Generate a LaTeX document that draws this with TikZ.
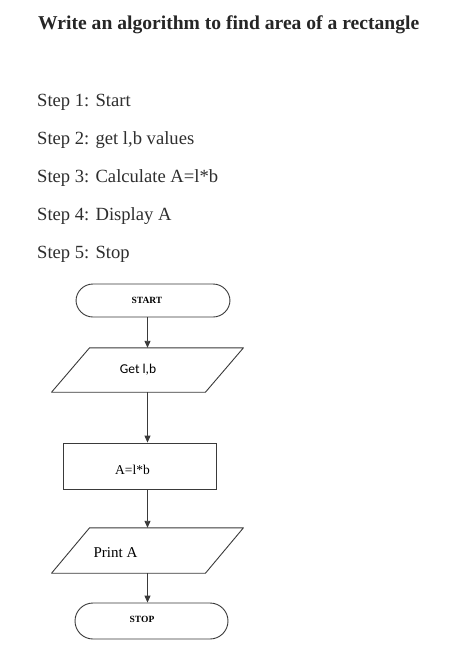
\documentclass[tikz,border=0pt]{standalone}
\usepackage{fontspec}
\setmainfont{Liberation Serif}
\newfontfamily\calib{Carlito}
\usetikzlibrary{arrows.meta}
\definecolor{titlecol}{HTML}{262626}
\definecolor{stepcol}{HTML}{2E2E2E}
\definecolor{linecol}{HTML}{3A3A3A}
\tikzset{
  titletext/.style={anchor=base west,inner sep=0pt,text=titlecol,font=\fontsize{19.6}{22}\selectfont\bfseries},
  steptext/.style={anchor=base west,inner sep=0pt,text=stepcol,font=\fontsize{18.6}{22}\selectfont},
  terminal/.style={draw=linecol,line width=0.9pt,rectangle,rounded corners=17pt,inner sep=0pt},
  iobody/.style={rectangle,inner sep=0pt,minimum width=153.5pt},
  ioline/.style={draw=linecol,line width=0.9pt,line join=round},
  procbox/.style={draw=linecol,line width=0.9pt,rectangle,inner sep=0pt},
  flowlabel/.style={inner sep=0pt,text=black},
  conn/.style={draw=linecol,line width=0.9pt,-{Triangle[length=7pt,width=6pt]}}
}
\newcommand\paraoutline[1]{%
  \draw[ioline] ([xshift=19pt]#1.north west) -- ([xshift=19pt]#1.north east)
    -- ([xshift=-19pt]#1.south east) -- ([xshift=-19pt]#1.south west) -- cycle;}
\begin{document}
\begin{tikzpicture}[x=1pt,y=-1pt]
\useasboundingbox[fill=white] (0,0) rectangle (474,646);
\node[titletext] (title) at (38,29) {Write an algorithm to find area of a rectangle};
\node[steptext] (s1) at (37,106) {Step 1: Start};
\node[steptext] (s2) at (37,144) {Step 2: get l,b values};
\node[steptext] (s3) at (37,182) {Step 3: Calculate A=l*b};
\node[steptext] (s4) at (37,220) {Step 4: Display A};
\node[steptext] (s5) at (37,258) {Step 5: Stop};

\node[terminal,minimum width=154pt,minimum height=33pt] (start) at (153,300.5) {};
\node[flowlabel,font=\fontsize{9.5}{11}\selectfont\bfseries] (startt) at (147,300) {START};

\node[iobody,minimum height=44pt] (getlb) at (147.5,370) {};
\paraoutline{getlb}
\node[flowlabel,font=\calib\fontsize{13.5}{16}\selectfont] (getlbt) at (138,370) {Get l,b};

\node[procbox,minimum width=153pt,minimum height=46pt] (calc) at (139.5,466) {};
\node[flowlabel,font=\fontsize{13.5}{16}\selectfont] (calct) at (132.5,470) {A=l*b};

\node[iobody,minimum height=45pt] (printa) at (147.5,550.5) {};
\paraoutline{printa}
\node[flowlabel,font=\fontsize{15}{18}\selectfont] (printat) at (115.5,553) {Print A};

\node[terminal,minimum width=153pt,minimum height=36pt,rounded corners=18pt] (stop) at (151.5,621) {};
\node[flowlabel,font=\fontsize{9.5}{11}\selectfont\bfseries] (stopt) at (142,619) {STOP};

\draw[conn] (getlb.north |- start.south) -- (getlb.north);
\draw[conn] (getlb.south) -- (getlb.south |- calc.north);
\draw[conn] (printa.north |- calc.south) -- (printa.north);
\draw[conn] (printa.south) -- (printa.south |- stop.north);
\end{tikzpicture}
\end{document}
